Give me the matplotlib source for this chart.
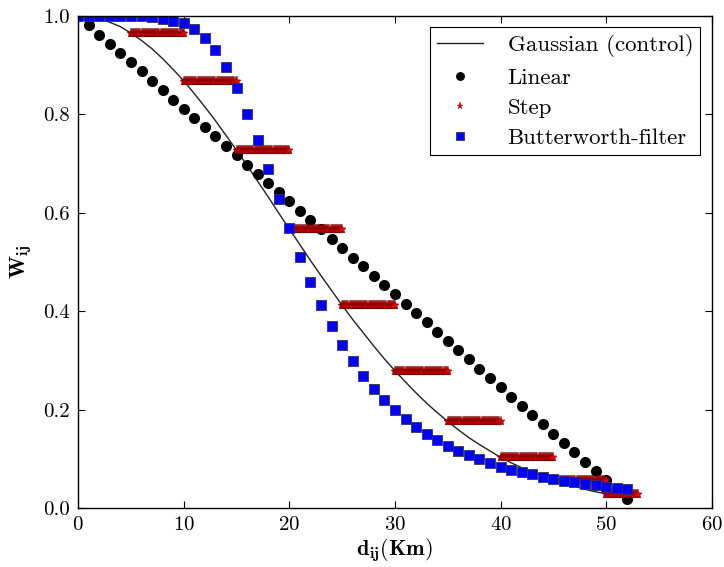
import matplotlib
matplotlib.use("Agg")
import matplotlib.pyplot as plt
import numpy as np

plt.rcParams["font.family"] = ["cmr10", "DejaVu Serif"]
plt.rcParams["mathtext.fontset"] = "cm"
plt.rcParams["axes.unicode_minus"] = False
plt.rcParams["axes.formatter.use_mathtext"] = True

# Gaussian (control), per km
gauss_x = list(range(0, 52))
gauss_y = [1.000, 0.999, 0.994, 0.987, 0.978, 0.965, 0.950, 0.933, 0.913, 0.891,
           0.868, 0.842, 0.815, 0.787, 0.757, 0.727, 0.696, 0.664, 0.632, 0.599,
           0.567, 0.535, 0.503, 0.472, 0.442, 0.412, 0.383, 0.356, 0.329, 0.303,
           0.279, 0.256, 0.234, 0.213, 0.194, 0.176, 0.159, 0.143, 0.129, 0.116,
           0.103, 0.092, 0.082, 0.073, 0.064, 0.057, 0.050, 0.044, 0.038, 0.033,
           0.029, 0.025]

# Linear weights at each km
linear_x = list(range(0, 53))
linear_y = [1.000, 0.981, 0.962, 0.943, 0.925, 0.906, 0.887, 0.868, 0.849, 0.830,
            0.811, 0.792, 0.774, 0.755, 0.736, 0.717, 0.698, 0.679, 0.660, 0.642,
            0.623, 0.604, 0.585, 0.566, 0.547, 0.528, 0.509, 0.491, 0.472, 0.453,
            0.434, 0.415, 0.396, 0.377, 0.358, 0.340, 0.321, 0.302, 0.283, 0.264,
            0.245, 0.226, 0.208, 0.189, 0.170, 0.151, 0.132, 0.113, 0.094, 0.075,
            0.057, 0.038, 0.019]

# Step: constant level on each distance band
step_edges = [0, 5, 10, 15, 20, 25, 30, 35, 40, 45, 50, 53]
step_levels = [1.0, 0.965, 0.868, 0.727, 0.567, 0.412, 0.279, 0.176, 0.103, 0.057, 0.029]

# Butterworth filter at each km
butter_x = list(range(0, 53))
butter_y = [1.0, 1.0, 1.0, 1.0, 1.0, 1.0, 1.0, 0.998, 0.993, 0.990,
            0.985, 0.973, 0.955, 0.930, 0.896, 0.853, 0.801, 0.748, 0.688, 0.628,
            0.568, 0.510, 0.460, 0.413, 0.370, 0.331, 0.299, 0.268, 0.242, 0.220,
            0.199, 0.181, 0.165, 0.150, 0.138, 0.126, 0.116, 0.108, 0.100, 0.091,
            0.084, 0.078, 0.073, 0.069, 0.063, 0.059, 0.055, 0.053, 0.049, 0.047,
            0.043, 0.041, 0.038]

step_x, step_y = [], []
for lo, hi, lev in zip(step_edges[:-1], step_edges[1:], step_levels):
    xs = np.arange(lo, hi + 0.001, 0.1)
    step_x.extend(xs)
    step_y.extend([lev] * len(xs))

fig = plt.figure(figsize=(7.24, 5.67), dpi=100)
ax = fig.add_axes([0.108, 0.104, 0.875, 0.868])

ax.plot(gauss_x, gauss_y, "-", color="#222222", lw=1.0, label="Gaussian (control)")
ax.plot(linear_x, linear_y, "o", color="black", ms=8, mew=0, label="Linear")
ax.plot(step_x, step_y, "*", color="#ee0000", mec="#660000", mew=0.3, ms=6.5, label="Step")
ax.plot(butter_x, butter_y, "s", color="#0000ff", mec="#333355", mew=0.6, ms=7,
        label="Butterworth-filter")

ax.set_xlim(0, 60)
ax.set_ylim(0, 1.0)
ax.set_xticks(range(0, 61, 10))
ax.set_yticks(np.arange(0, 1.01, 0.2))
ax.set_yticklabels(["0.0", "0.2", "0.4", "0.6", "0.8", "1.0"])
ax.tick_params(direction="in", top=True, right=True, length=5, width=0.8,
               labelsize=15, pad=6)
for s in ax.spines.values():
    s.set_linewidth(1.0)

ax.set_xlabel(r"$\mathbf{d_{ij}(Km)}$", fontsize=16, labelpad=2)
ax.set_ylabel(r"$\mathbf{W_{ij}}$", fontsize=16, labelpad=6)

leg = ax.legend(loc="upper right", numpoints=1, fontsize=16.5, markerscale=0.8,
                fancybox=False, edgecolor="black", framealpha=1,
                borderpad=0.3, labelspacing=0.45, handletextpad=1.1)
leg.get_frame().set_linewidth(0.8)

fig.savefig("out.png", dpi=100)
